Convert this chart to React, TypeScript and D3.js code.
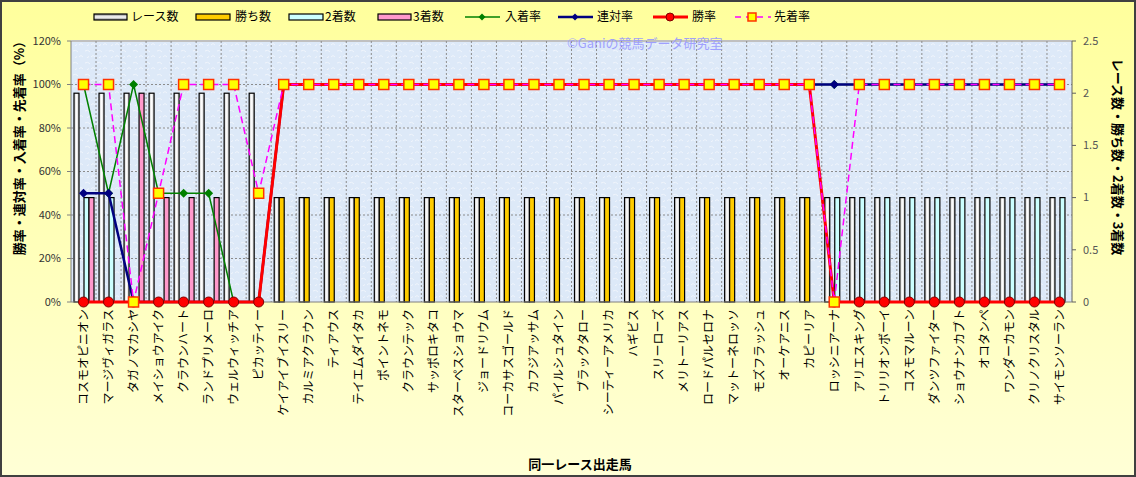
import * as d3 from "d3";

const horses = [
  "コスモオピニオン", "マージヴィガラス", "タガノマカシヤ", "メイショウアイク", "クラウンハート",
  "ランドプリメーロ", "ウェルウィッチア", "ピカッティー", "ケイアイブイスリー", "カルミアクラウン",
  "ティアウス", "テイエムダイタカ", "ポイントネモ", "クラウンテック", "サッポロキタコ",
  "スターペスショウマ", "ジョードリウム", "コーカサスゴールド", "カフジアッサム", "パイルシュタイン",
  "ブラックタロー", "シーティーアメリカ", "ハギビス", "スリーローズ", "メリトーリアス",
  "ロードパルセロナ", "マットーネロッソ", "モズフラッシュ", "オーケアニス", "カピーリア",
  "ロッシニアーナ", "アリエスキング", "トリリオンボーイ", "コスモマルーン", "ダンツファイター",
  "ショウナンカブト", "オコタンペ", "ワンダーカモン", "クリノクリスタル", "サイモンソーラン",
];

// counts (right axis)
const races = [2, 2, 2, 2, 2, 2, 2, 2, 1, 1, 1, 1, 1, 1, 1, 1, 1, 1, 1, 1, 1, 1, 1, 1, 1, 1, 1, 1, 1, 1, 1, 1, 1, 1, 1, 1, 1, 1, 1, 1];
const wins = [0, 0, 0, 0, 0, 0, 0, 0, 1, 1, 1, 1, 1, 1, 1, 1, 1, 1, 1, 1, 1, 1, 1, 1, 1, 1, 1, 1, 1, 1, 0, 0, 0, 0, 0, 0, 0, 0, 0, 0];
const seconds = [1, 1, 0, 0, 0, 0, 0, 0, 0, 0, 0, 0, 0, 0, 0, 0, 0, 0, 0, 0, 0, 0, 0, 0, 0, 0, 0, 0, 0, 0, 1, 1, 1, 1, 1, 1, 1, 1, 1, 1];
const thirds = [1, 0, 2, 1, 1, 1, 0, 0, 0, 0, 0, 0, 0, 0, 0, 0, 0, 0, 0, 0, 0, 0, 0, 0, 0, 0, 0, 0, 0, 0, 0, 0, 0, 0, 0, 0, 0, 0, 0, 0];

// rates in % (left axis)
const placeRate = [100, 50, 100, 50, 50, 50, 0, 0, 100, 100, 100, 100, 100, 100, 100, 100, 100, 100, 100, 100, 100, 100, 100, 100, 100, 100, 100, 100, 100, 100, 100, 100, 100, 100, 100, 100, 100, 100, 100, 100];
const quinellaRate = [50, 50, 0, 0, 0, 0, 0, 0, 100, 100, 100, 100, 100, 100, 100, 100, 100, 100, 100, 100, 100, 100, 100, 100, 100, 100, 100, 100, 100, 100, 100, 100, 100, 100, 100, 100, 100, 100, 100, 100];
const winRate = [0, 0, 0, 0, 0, 0, 0, 0, 100, 100, 100, 100, 100, 100, 100, 100, 100, 100, 100, 100, 100, 100, 100, 100, 100, 100, 100, 100, 100, 100, 0, 0, 0, 0, 0, 0, 0, 0, 0, 0];
const aheadRate = [100, 100, 0, 50, 100, 100, 100, 50, 100, 100, 100, 100, 100, 100, 100, 100, 100, 100, 100, 100, 100, 100, 100, 100, 100, 100, 100, 100, 100, 100, 0, 100, 100, 100, 100, 100, 100, 100, 100, 100];

const leftTicks = [0, 20, 40, 60, 80, 100, 120];
const rightTicks = [0, 0.5, 1, 1.5, 2, 2.5];

const W = 1136;
const H = 477;
const FONT = "'Noto Sans CJK JP', 'Noto Sans', sans-serif";

const plot = { left: 71, right: 1072, top: 41, bottom: 302 };

export default function App() {
  const x = d3.scaleBand<string>().domain(horses).range([plot.left, plot.right]).padding(0);
  const bw = x.bandwidth();
  const cx = (i: number) => (x(horses[i]) as number) + bw / 2;
  const yL = d3.scaleLinear().domain([0, 120]).range([plot.bottom, plot.top]);
  const yR = d3.scaleLinear().domain([0, 2.5]).range([plot.bottom, plot.top]);

  const barKeys = ["races", "wins", "seconds", "thirds"];
  const inner = d3.scaleBand<string>().domain(barKeys).range([3, 23]).padding(0);
  const barSeries: { key: string; values: number[]; fill: string }[] = [
    { key: "races", values: races, fill: "url(#raceGrad)" },
    { key: "wins", values: wins, fill: "#ffcc00" },
    { key: "seconds", values: seconds, fill: "#ccffff" },
    { key: "thirds", values: thirds, fill: "#ff99cc" },
  ];

  const line = d3.line<number>().x((_, i) => cx(i)).y((d) => yL(d));

  const diamond = (px: number, py: number, r: number) =>
    `M${px},${py - r}L${px + r},${py}L${px},${py + r}L${px - r},${py}Z`;

  const legendY = 17;

  return (
    <svg width={W} height={H} style={{ position: "absolute", left: 0, top: 0, display: "block" }} fontFamily={FONT}>
      <defs>
        <linearGradient id="bgGrad" x1="0" y1="0" x2="0" y2="1">
          <stop offset="0%" stopColor="#ffff9c" />
          <stop offset="100%" stopColor="#ffffd6" />
        </linearGradient>
        <linearGradient id="raceGrad" x1="0" y1="0" x2="1" y2="0">
          <stop offset="0%" stopColor="#c8c8c8" />
          <stop offset="50%" stopColor="#ffffff" />
          <stop offset="100%" stopColor="#c8c8c8" />
        </linearGradient>
        <linearGradient id="raceGradV" x1="0" y1="0" x2="0" y2="1">
          <stop offset="0%" stopColor="#808080" />
          <stop offset="50%" stopColor="#ffffff" />
          <stop offset="100%" stopColor="#808080" />
        </linearGradient>
        <pattern id="tex" width="12" height="12" patternUnits="userSpaceOnUse">
          <rect width="12" height="12" fill="#dde9f8" />
          <path d="M1,3 q3,-2 5,1 M7,9 q2,-3 4,0 M3,10 q1,-2 2,-1" stroke="#f0f5fc" strokeWidth="1" fill="none" />
        </pattern>
      </defs>

      <rect x={0} y={0} width={W} height={H} fill="url(#bgGrad)" />
      <rect x={1} y={1} width={W - 2} height={H - 2} fill="none" stroke="#404040" strokeWidth={2} />

      {/* plot area */}
      <rect x={plot.left} y={plot.top} width={plot.right - plot.left} height={plot.bottom - plot.top} fill="url(#tex)" />
      <line x1={plot.left} x2={plot.right} y1={plot.top} y2={plot.top} stroke="#c0c0c0" strokeWidth={2} />

      {/* grid */}
      {leftTicks.slice(1, -1).map((t) => (
        <line key={"h" + t} x1={plot.left} x2={plot.right} y1={yL(t)} y2={yL(t)} stroke="#8c8c8c" strokeWidth={1} strokeDasharray="2,2" />
      ))}
      {horses.slice(1).map((h) => (
        <line key={"v" + h} x1={x(h)} x2={x(h)} y1={plot.top} y2={plot.bottom} stroke="#8c8c8c" strokeWidth={1} strokeDasharray="2,2" />
      ))}

      {/* bars */}
      {barSeries.map((s) =>
        s.values.map((v, i) =>
          v > 0 ? (
            <rect
              key={s.key + i}
              x={(x(horses[i]) as number) + (inner(s.key) as number)}
              y={yR(v)}
              width={inner.bandwidth()}
              height={yR(0) - yR(v)}
              fill={s.fill}
              stroke="#000"
              strokeWidth={1.2}
            />
          ) : null
        )
      )}

      {/* axes */}
      <line x1={plot.left} x2={plot.left} y1={plot.top} y2={plot.bottom} stroke="#808080" strokeWidth={1} />
      <line x1={plot.right} x2={plot.right} y1={plot.top} y2={plot.bottom} stroke="#606060" strokeWidth={1} />
      <line x1={plot.left} x2={plot.right} y1={plot.bottom} y2={plot.bottom} stroke="#808080" strokeWidth={1} />
      {leftTicks.map((t) => (
        <g key={"lt" + t}>
          <line x1={plot.left - 4} x2={plot.left} y1={yL(t)} y2={yL(t)} stroke="#808080" />
          <text x={61} y={yL(t)} dy="0.35em" textAnchor="end" fontSize={11} fill="#333">{t}%</text>
        </g>
      ))}
      {rightTicks.map((t) => (
        <g key={"rt" + t}>
          <line x1={plot.right} x2={plot.right + 4} y1={yR(t)} y2={yR(t)} stroke="#606060" />
          <text x={1083} y={yR(t)} dy="0.35em" textAnchor="start" fontSize={11} fill="#555">{t}</text>
        </g>
      ))}

      {/* lines */}
      <path d={line(placeRate) || ""} fill="none" stroke="#008000" strokeWidth={1.5} />
      {placeRate.map((v, i) => (
        <path key={"pm" + i} d={diamond(cx(i), yL(v), 4.5)} fill="#008000" />
      ))}
      <path d={line(quinellaRate) || ""} fill="none" stroke="#000080" strokeWidth={2.5} />
      {quinellaRate.map((v, i) => (
        <path key={"qm" + i} d={diamond(cx(i), yL(v), 4.5)} fill="#000080" />
      ))}
      <path d={line(winRate) || ""} fill="none" stroke="#ff0000" strokeWidth={3} />
      {winRate.map((v, i) => (
        <circle key={"wm" + i} cx={cx(i)} cy={yL(v)} r={5} fill="#ff0000" stroke="#800000" strokeWidth={1} />
      ))}
      <path d={line(aheadRate) || ""} fill="none" stroke="#ff00ff" strokeWidth={1.5} strokeDasharray="7,4" />
      {aheadRate.map((v, i) => (
        <rect key={"am" + i} x={cx(i) - 5} y={yL(v) - 5} width={10} height={10} fill="#ffff00" stroke="#ff3300" strokeWidth={1.5} />
      ))}

      {/* watermark */}
      <text x={567} y={48} fontSize={13} fill="#9999ff" opacity={0.9}>©Ganiの競馬データ研究室</text>

      {/* x labels */}
      {horses.map((h, i) => (
        <text key={"xl" + i} transform={`translate(${cx(i)},309) rotate(-90)`} dy="0.36em" textAnchor="end" fontSize={12} fill="#000">
          {h}
        </text>
      ))}

      {/* axis titles */}
      <text transform="translate(19,145) rotate(-90)" dy="0.35em" textAnchor="middle" fontSize={13} fontWeight="bold" fill="#000">
        勝率・連対率・入着率・先着率（%）
      </text>
      <text transform="translate(1118,157) rotate(90)" dy="0.35em" textAnchor="middle" fontSize={13} fontWeight="bold" fill="#000">
        レース数・勝ち数・2着数・3着数
      </text>
      <text x={580} y={464} dy="0.35em" textAnchor="middle" fontSize={13} fontWeight="bold" fill="#000">
        同一レース出走馬
      </text>

      {/* legend */}
      <g fontSize={12} fill="#000">
        <rect x={94} y={legendY - 3} width={33} height={6} fill="url(#raceGradV)" stroke="#000" strokeWidth={1.2} />
        <text x={131} y={legendY} dy="0.35em">レース数</text>
        <rect x={196} y={legendY - 3} width={34} height={6} fill="#ffcc00" stroke="#000" strokeWidth={1.2} />
        <text x={235} y={legendY} dy="0.35em">勝ち数</text>
        <rect x={289} y={legendY - 3} width={34} height={6} fill="#ccffff" stroke="#000" strokeWidth={1.2} />
        <text x={325} y={legendY} dy="0.35em">2着数</text>
        <rect x={378} y={legendY - 3} width={33} height={6} fill="#ff99cc" stroke="#000" strokeWidth={1.2} />
        <text x={413} y={legendY} dy="0.35em">3着数</text>

        <line x1={465} x2={500} y1={legendY} y2={legendY} stroke="#008000" strokeWidth={1.5} />
        <path d={diamond(482, legendY, 3.5)} fill="#008000" />
        <text x={505} y={legendY} dy="0.35em">入着率</text>

        <line x1={558} x2={593} y1={legendY} y2={legendY} stroke="#000080" strokeWidth={2.5} />
        <path d={diamond(575, legendY, 3.5)} fill="#000080" />
        <text x={597} y={legendY} dy="0.35em">連対率</text>

        <line x1={653} x2={688} y1={legendY} y2={legendY} stroke="#ff0000" strokeWidth={3} />
        <circle cx={670} cy={legendY} r={4} fill="#ff0000" stroke="#800000" />
        <text x={692} y={legendY} dy="0.35em">勝率</text>

        <line x1={735} x2={771} y1={legendY} y2={legendY} stroke="#ff00ff" strokeWidth={1.5} strokeDasharray="6,5" />
        <rect x={748} y={legendY - 4} width={8} height={8} fill="#ffff00" stroke="#ff3300" strokeWidth={1.5} />
        <text x={774} y={legendY} dy="0.35em">先着率</text>
      </g>
    </svg>
  );
}
